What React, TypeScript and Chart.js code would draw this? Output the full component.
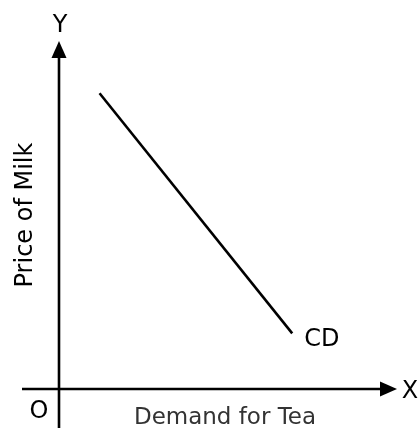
import React, { useEffect, useRef } from "react";
import { Chart, registerables } from "chart.js";

Chart.register(...registerables);

const curveLabel = "CD";
const curveX = [1.2, 6.9];
const curveY = [8.5, 1.6];
const xAxisLetter = "X";
const yAxisLetter = "Y";
const originLetter = "O";
const xTitle = "Demand for Tea";
const yTitle = "Price of Milk";

const FONT = "'DejaVu Sans', sans-serif";

const axesPlugin = {
  id: "econAxes",
  afterDraw(chart: any) {
    const ctx = chart.ctx as CanvasRenderingContext2D;
    const xs = chart.scales.x;
    const ys = chart.scales.y;
    const ox = xs.getPixelForValue(0);
    const oy = ys.getPixelForValue(0);
    const xEnd = xs.getPixelForValue(10);
    const yEnd = ys.getPixelForValue(10);
    ctx.save();
    ctx.strokeStyle = "#000";
    ctx.fillStyle = "#000";
    ctx.lineWidth = 2.6;
    // Y axis
    ctx.beginPath();
    ctx.moveTo(ox, chart.height);
    ctx.lineTo(ox, yEnd + 12);
    ctx.stroke();
    ctx.beginPath();
    ctx.moveTo(ox, yEnd);
    ctx.lineTo(ox - 7.5, yEnd + 17);
    ctx.lineTo(ox + 7.5, yEnd + 17);
    ctx.closePath();
    ctx.fill();
    // X axis
    ctx.beginPath();
    ctx.moveTo(ox - 37, oy);
    ctx.lineTo(xEnd - 12, oy);
    ctx.stroke();
    ctx.beginPath();
    ctx.moveTo(xEnd, oy);
    ctx.lineTo(xEnd - 17, oy - 7.5);
    ctx.lineTo(xEnd - 17, oy + 7.5);
    ctx.closePath();
    ctx.fill();

    ctx.textAlign = "center";
    ctx.textBaseline = "alphabetic";
    ctx.font = `24px ${FONT}`;
    ctx.fillText(yAxisLetter, ox + 1, yEnd - 9);
    ctx.fillText(xAxisLetter, xEnd + 13, oy + 9);
    ctx.fillText(originLetter, ox - 20, oy + 29);

    // curve label
    const meta = chart.getDatasetMeta(0);
    const last = meta.data[meta.data.length - 1];
    ctx.textAlign = "left";
    ctx.fillText(curveLabel, last.x + 12, last.y + 13);

    // titles
    ctx.save();
    ctx.translate(ox - 27, (oy + yEnd) / 2);
    ctx.rotate(-Math.PI / 2);
    ctx.textAlign = "center";
    ctx.fillText(yTitle, 0, 0);
    ctx.restore();

    ctx.font = `23px ${FONT}`;
    ctx.fillStyle = "#333";
    ctx.textAlign = "center";
    ctx.fillText(xTitle, (ox + xEnd) / 2 - 3, oy + 35);
    ctx.restore();
  },
};

export default function App() {
  const ref = useRef<HTMLCanvasElement>(null);
  useEffect(() => {
    document.body.style.margin = "0";
    document.body.style.background = "#fff";
    const chart = new Chart(ref.current!, {
      type: "scatter",
      data: {
        datasets: [
          {
            label: curveLabel,
            data: curveX.map((x, i) => ({ x, y: curveY[i] })),
            showLine: true,
            borderColor: "#000",
            borderWidth: 2.6,
            pointRadius: 0,
            pointHoverRadius: 0,
          },
        ],
      },
      options: {
        animation: false,
        responsive: false,
        devicePixelRatio: 1,
        layout: { padding: { left: 59, right: 21, top: 41, bottom: 39 } },
        plugins: { legend: { display: false }, tooltip: { enabled: false } },
        scales: {
          x: { type: "linear", min: 0, max: 10, display: false },
          y: { type: "linear", min: 0, max: 10, display: false },
        },
      },
      plugins: [axesPlugin],
    });
    return () => chart.destroy();
  }, []);
  return (
    <canvas
      ref={ref}
      width={418}
      height={428}
      style={{ display: "block", width: 418, height: 428 }}
    />
  );
}
